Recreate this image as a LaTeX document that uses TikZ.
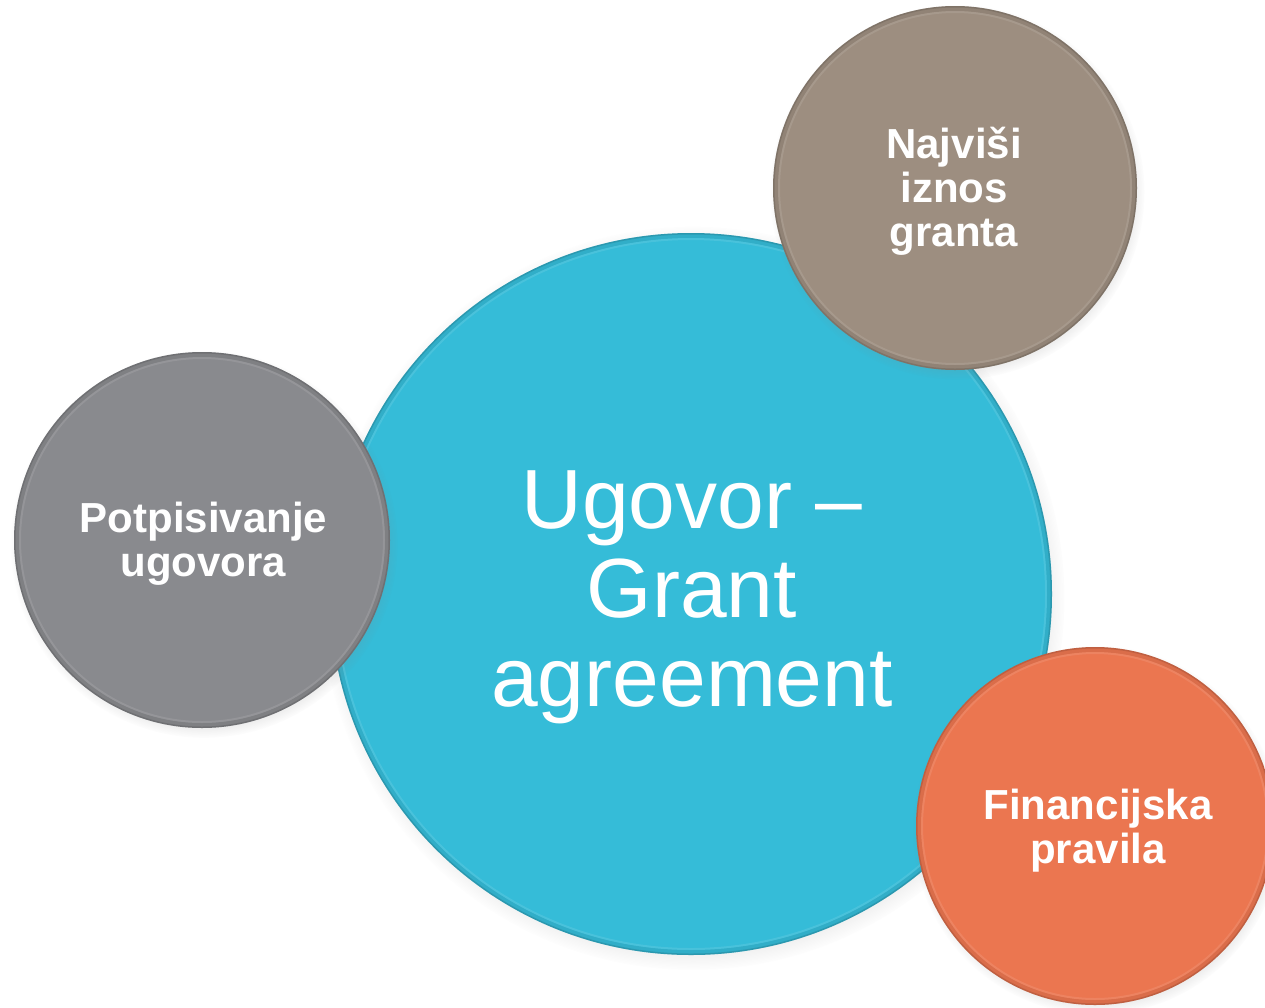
\documentclass[tikz,border=0pt]{standalone}
\usepackage{fontspec}
\setmainfont{Liberation Sans}
\usetikzlibrary{shadows}
\definecolor{cblue}{RGB}{53,188,216}
\definecolor{cgray}{RGB}{137,138,142}
\definecolor{cbrown}{RGB}{157,142,128}
\definecolor{corange}{RGB}{235,118,80}
\begin{document}
\begin{tikzpicture}[x=1pt,y=-1pt,
  disc/.style={circle, inner sep=0pt, minimum size=#1,
    circular drop shadow={shadow xshift=2pt, shadow yshift=-4pt, opacity=0.35, shadow scale=1.03},
    path picture={
      \draw[black, opacity=0.07, line width=10pt] (path picture bounding box.center) circle[radius=#1/2];
      \draw[black, opacity=0.12, line width=3pt] (path picture bounding box.center) circle[radius=#1/2];
      \draw[white, opacity=0.10, line width=2pt] (path picture bounding box.center) circle[radius=#1/2-6pt];
    }},
  small/.style={text=white, align=center, inner sep=0pt, font=\bfseries\fontsize{42}{44}\selectfont},
  big/.style={text=white, align=center, inner sep=0pt, font=\fontsize{84}{89}\selectfont}
]
\fill[white] (0,0) rectangle (1265,1007);
\useasboundingbox (0,0) rectangle (1265,1007);

\node[disc=722pt, fill=cblue] (main) at (691,594) {};
\node[big] (maintxt) at (692,597) {Ugovor –\\Grant\\agreement};

\node[disc=376pt, fill=cgray] (sign) at (202,540) {};
\node[small] (signtxt) at (203.5,544) {Potpisivanje\\ugovora};

\node[disc=364pt, fill=cbrown] (max) at (955,188) {};
\node[small] (maxtxt) at (954,191) {Najviši\\iznos\\granta};

\node[disc=358pt, fill=corange] (fin) at (1095,826) {};
\node[small] (fintxt) at (1098,831) {Financijska\\pravila};
\end{tikzpicture}
\end{document}
